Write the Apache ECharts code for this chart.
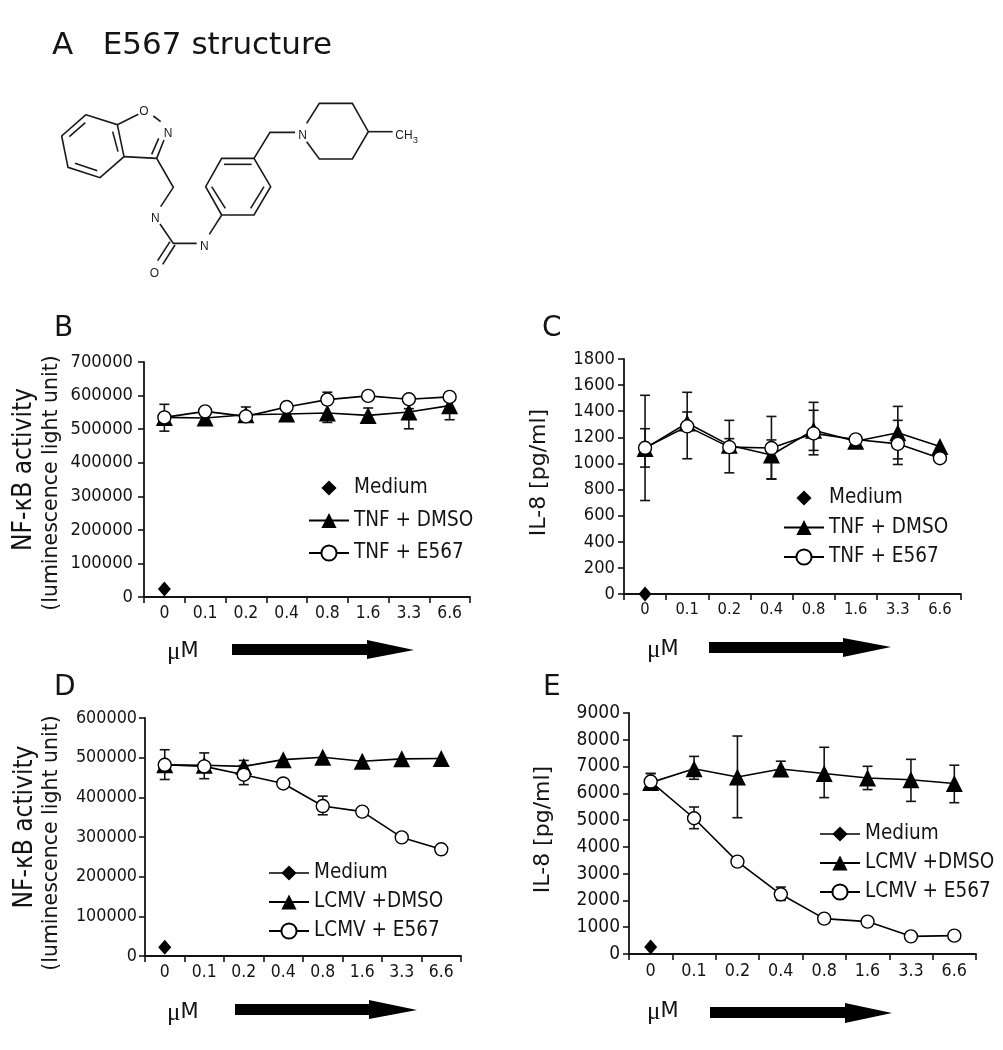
<!DOCTYPE html>
<html><head><meta charset="utf-8">
<style>html,body{margin:0;padding:0;background:#fff}#c{width:1003px;height:1050px}</style>
<script src="https://cdn.jsdelivr.net/npm/echarts@6/dist/echarts.min.js"></script>
</head><body><div id="c"></div>
<script>
const doses = ['0','0.1','0.2','0.4','0.8','1.6','3.3','6.6'];

const bMedium = [24000,null,null,null,null,null,null,null];
const bDmso   = [535000,533000,543000,545000,548000,541000,551000,570000];
const bE567   = [535000,553000,538000,566000,588000,599000,589000,596000];
const bDmsoLow  = [null,null,521000,null,520000,null,501000,528000];
const bDmsoHigh = [null,null,566000,null,null,563000,561000,600000];
const bE567Low  = [494000,null,null,null,null,null,null,null];
const bE567High = [574000,null,null,null,610000,null,null,null];

const cMedium = [0,null,null,null,null,null,null,null];
const cDmso   = [1115,1310,1140,1065,1255,1170,1235,1130];
const cE567   = [1120,1284,1125,1118,1230,1184,1150,1040];
const cDmsoLow  = [972,null,1090,882,1100,null,1035,1060];
const cDmsoHigh = [1266,1394,1190,1180,1407,null,1330,null];
const cE567Low  = [716,1036,928,880,1066,null,992,null];
const cE567High = [1522,1545,1330,1360,1468,null,1437,null];

const dMedium = [22000,null,null,null,null,null,null,null];
const dDmso   = [482000,481000,478000,495000,501000,491000,497000,498000];
const dE567   = [482000,478000,457000,435000,378000,364000,299000,269000];
const dDmsoLow  = [null,null,null,null,null,null,null,null];
const dDmsoHigh = [null,null,493000,null,null,null,null,null];
const dE567Low  = [445000,447000,432000,null,356000,null,null,null];
const dE567High = [520000,512000,480000,null,403000,null,null,null];

const eMedium = [260,null,null,null,null,null,null,null];
const eDmso   = [6400,6920,6610,6910,6740,6575,6510,6365];
const eE567   = [6440,5070,3450,2230,1320,1210,660,685];
const eDmsoLow  = [null,6525,5090,6700,5840,6140,5700,5650];
const eDmsoHigh = [6740,7380,8140,7200,7720,7010,7270,7050];
const eE567Low  = [6140,4680,null,2000,null,null,null,null];
const eE567High = [6740,5490,null,2500,null,null,null,null];

const INK = '#141414';
const SANS = '"DejaVu Sans"';
const COND = '"DejaVu Sans Condensed","DejaVu Sans"';

const panels = [
  {letter:'B',lx:54,ly:315,grid:{left:144,top:362,width:326,height:235},max:700000,interval:100000,
   yFont:18.2,yMargin:11,xFont:17.4,name:'NF-κB activity',nameFont:26,nameGap:107,namePad:[0,0,0,20],
   sub:{x:52,y:483},labels:['TNF + DMSO','TNF + E567'],
   medium:bMedium,dmso:bDmso,e567:bE567,dl:bDmsoLow,dh:bDmsoHigh,el:bE567Low,eh:bE567High,
   leg:{left:308,rowY:488,gap:32.5,font:20.5,mediumLine:false},mu:[167,652],
   arrow:[232,367,414,644,655,640,659,650]},
  {letter:'C',lx:542,ly:315,grid:{left:624,top:359,width:337,height:235},max:1800,interval:200,
   yFont:18.2,yMargin:9,xFont:16.4,name:'IL-8 [pg/ml]',nameFont:22,nameGap:74,namePad:[0,0,0,8],
   sub:null,labels:['TNF + DMSO','TNF + E567'],
   medium:cMedium,dmso:cDmso,e567:cE567,dl:cDmsoLow,dh:cDmsoHigh,el:cE567Low,eh:cE567High,
   leg:{left:783,rowY:498,gap:29.5,font:20.5,mediumLine:false},mu:[647,650],
   arrow:[709,843,891,642,653,638,657,647]},
  {letter:'D',lx:54,ly:674,grid:{left:145,top:718,width:316,height:238},max:600000,interval:100000,
   yFont:17.8,yMargin:8,xFont:17.4,name:'NF-κB activity',nameFont:26,nameGap:107,namePad:[0,0,0,20],
   sub:{x:52,y:843},labels:['LCMV +DMSO','LCMV + E567'],
   medium:dMedium,dmso:dDmso,e567:dE567,dl:dDmsoLow,dh:dDmsoHigh,el:dE567Low,eh:dE567High,
   leg:{left:268,rowY:873,gap:29,font:20.5,mediumLine:true},mu:[167,1013],
   arrow:[235,369,417,1004,1015,1000,1019,1010]},
  {letter:'E',lx:543,ly:674,grid:{left:629,top:713,width:347,height:241},max:9000,interval:1000,
   yFont:19,yMargin:9,xFont:17.8,name:'IL-8 [pg/ml]',nameFont:22,nameGap:75,namePad:[0,0,0,8],
   sub:null,labels:['LCMV +DMSO','LCMV + E567'],
   medium:eMedium,dmso:eDmso,e567:eE567,dl:eDmsoLow,dh:eDmsoHigh,el:eE567Low,eh:eE567High,
   leg:{left:819,rowY:834,gap:29,font:20.5,mediumLine:true},mu:[647,1012],
   arrow:[710,845,892,1007,1018,1003,1023,1013]}
];

function errSeries(pi,lo,hi,centre){
  const rows=[];
  doses.forEach((d,i)=>{
    if(lo[i]==null&&hi[i]==null) return;
    rows.push([i, lo[i]==null?centre[i]:lo[i], hi[i]==null?centre[i]:hi[i]]);
  });
  return {type:'custom',xAxisIndex:pi,yAxisIndex:pi,z:1,silent:true,clip:false,
    encode:{x:0,y:[1,2]},data:rows,
    renderItem(params,api){
      const c=centre[rows[params.dataIndex][0]];
      const a=api.coord([api.value(0),api.value(1)]), b=api.coord([api.value(0),api.value(2)]);
      const st={stroke:INK,lineWidth:1.6,fill:null};
      const cap=5, ch=[{type:'line',shape:{x1:a[0],y1:a[1],x2:b[0],y2:b[1]},style:st}];
      if(api.value(1)!==c) ch.push({type:'line',shape:{x1:a[0]-cap,y1:a[1],x2:a[0]+cap,y2:a[1]},style:st});
      if(api.value(2)!==c) ch.push({type:'line',shape:{x1:b[0]-cap,y1:b[1],x2:b[0]+cap,y2:b[1]},style:st});
      return {type:'group',children:ch};
    }};
}

const titles=[{text:'A   E567 structure',left:52,top:30,padding:0,textStyle:{fontFamily:SANS,fontWeight:'normal',fontSize:31,color:INK}}];
const grids=[],xAxes=[],yAxes=[],series=[],legends=[],graphics=[];

panels.forEach((p,pi)=>{
  titles.push({text:p.letter,left:p.lx,top:p.ly,padding:0,textStyle:{fontFamily:SANS,fontWeight:'normal',fontSize:28,color:INK}});
  grids.push(Object.assign({containLabel:false},p.grid));
  const line={show:true,onZero:false,lineStyle:{color:INK,width:1.8}};
  xAxes.push({type:'category',gridIndex:pi,data:doses,boundaryGap:true,
    axisLine:line,axisTick:{show:true,length:6,inside:false,alignWithLabel:false,lineStyle:{color:INK,width:1.6}},
    axisLabel:{color:INK,fontFamily:COND,fontSize:p.xFont,margin:8,interval:0},splitLine:{show:false}});
  yAxes.push({type:'value',gridIndex:pi,min:0,max:p.max,interval:p.interval,
    name:p.name,nameLocation:'middle',nameGap:p.nameGap,nameRotate:90,
    nameTextStyle:{color:INK,fontFamily:p.nameFont===26?COND:SANS,fontSize:p.nameFont,padding:p.namePad},
    axisLine:line,axisTick:{show:true,length:6,lineStyle:{color:INK,width:1.6}},
    axisLabel:{color:INK,fontFamily:COND,fontSize:p.yFont,margin:p.yMargin,formatter:v=>String(v)},splitLine:{show:false}});

  series.push(errSeries(pi,p.dl,p.dh,p.dmso));
  series.push(errSeries(pi,p.el,p.eh,p.e567));
  const medLine=p.leg.mediumLine?1.5:0;
  series.push({type:'line',name:'Medium',xAxisIndex:pi,yAxisIndex:pi,data:p.medium,z:3,silent:true,
    symbol:'diamond',symbolSize:[13,15],showAllSymbol:true,connectNulls:false,
    itemStyle:{color:'#000'},lineStyle:{color:'#000',width:medLine}});
  series.push({type:'line',name:p.labels[0],xAxisIndex:pi,yAxisIndex:pi,data:p.dmso,z:3,silent:true,
    symbol:'triangle',symbolSize:17,showAllSymbol:true,
    itemStyle:{color:'#000'},lineStyle:{color:'#000',width:1.6}});
  series.push({type:'line',name:p.labels[1],xAxisIndex:pi,yAxisIndex:pi,data:p.e567,z:4,silent:true,
    symbol:'circle',symbolSize:13,showAllSymbol:true,
    itemStyle:{color:'#fff',borderColor:'#000',borderWidth:1.4},lineStyle:{color:'#000',width:1.6}});

  const itemH=19;
  legends.push({show:true,orient:'vertical',left:p.leg.left,top:p.leg.rowY-10.5,padding:0,
    itemWidth:40,itemHeight:itemH,itemGap:p.leg.gap-21,selectedMode:false,align:'left',
    textStyle:{color:INK,fontFamily:COND,fontSize:p.leg.font,lineHeight:itemH},
    data:[{name:'Medium',lineStyle:{width:medLine,color:'#000'},itemStyle:{color:'#000'}},p.labels[0],p.labels[1]]});

  if(p.sub) graphics.push({type:'text',x:p.sub.x,y:p.sub.y,rotation:Math.PI/2,silent:true,
    style:{text:'(luminescence light unit)',fontFamily:SANS,fontSize:20.5,fill:INK,align:'center',verticalAlign:'middle'}});
  graphics.push({type:'text',x:p.mu[0],y:p.mu[1],silent:true,
    style:{text:'{a|μ}{b|M}',verticalAlign:'middle',align:'left',fill:INK,
      rich:{a:{fontFamily:'"Liberation Serif"',fontSize:25,fill:INK},b:{fontFamily:SANS,fontSize:21,fill:INK}}}});
  const a=p.arrow;
  graphics.push({type:'polygon',silent:true,shape:{points:[[a[0],a[3]],[a[1],a[3]],[a[1],a[5]],[a[2],a[7]],[a[1],a[6]],[a[1],a[4]],[a[0],a[4]]]},style:{fill:'#000'}});
});

/* structural formula of E567 */
const molLines=[
 [[138,284],[232,314],[252,410],[180,473],[84,442],[65,348],[138,284]],
 [[88,350],[136,308]],[[105,430],[172,452]],[[218,335],[234,395]],
 [[232,314],[295,283]],[[340,288],[362,305]],[[372,360],[350,415]],[[356,355],[335,403]],
 [[252,410],[350,415],[400,502],[362,560]],
 [[360,612],[400,670],[470,670]],[[405,675],[368,733]],[[390,665],[353,722]],
 [[508,643],[545,585],[642,585],[692,500],[642,415],[545,415],[497,500],[545,585]],
 [[515,500],[556,565]],[[552,433],[635,433]],[[672,500],[632,565]],
 [[642,415],[690,337],[765,337]],
 [[800,310],[838,250],[937,250],[985,335],[937,417],[838,417],[800,365]],
 [[985,335],[1058,335]]
];
const molAtoms=[['O',312,276],['N',384,340],['N',346,597],['N',493,681],['O',343,762],['N',788,347]];
const molChildren=molLines.map(pts=>({type:'polyline',silent:true,shape:{points:pts},style:{stroke:'#1a1a1a',lineWidth:4.8,fill:null}}));
molAtoms.forEach(t=>molChildren.push({type:'text',x:t[1],y:t[2],silent:true,style:{text:t[0],fontFamily:'"Liberation Sans"',fontSize:36,fill:'#1a1a1a',align:'center',verticalAlign:'middle'}}));
molChildren.push({type:'text',x:1066,y:348,silent:true,style:{text:'CH',fontFamily:'"Liberation Sans"',fontSize:36,fill:'#1a1a1a',align:'left',verticalAlign:'middle'}});
molChildren.push({type:'text',x:1118,y:362,silent:true,style:{text:'3',fontFamily:'"Liberation Sans"',fontSize:28,fill:'#1a1a1a',align:'left',verticalAlign:'middle'}});
graphics.push({type:'group',x:40,y:20,scaleX:1/3,scaleY:1/3,children:molChildren});

const chart=echarts.init(document.getElementById('c'),null,{renderer:'canvas'});
chart.setOption({animation:false,backgroundColor:'#fff',tooltip:{show:false},
  title:titles,grid:grids,xAxis:xAxes,yAxis:yAxes,legend:legends,series,graphic:{elements:graphics}});
</script></body></html>
